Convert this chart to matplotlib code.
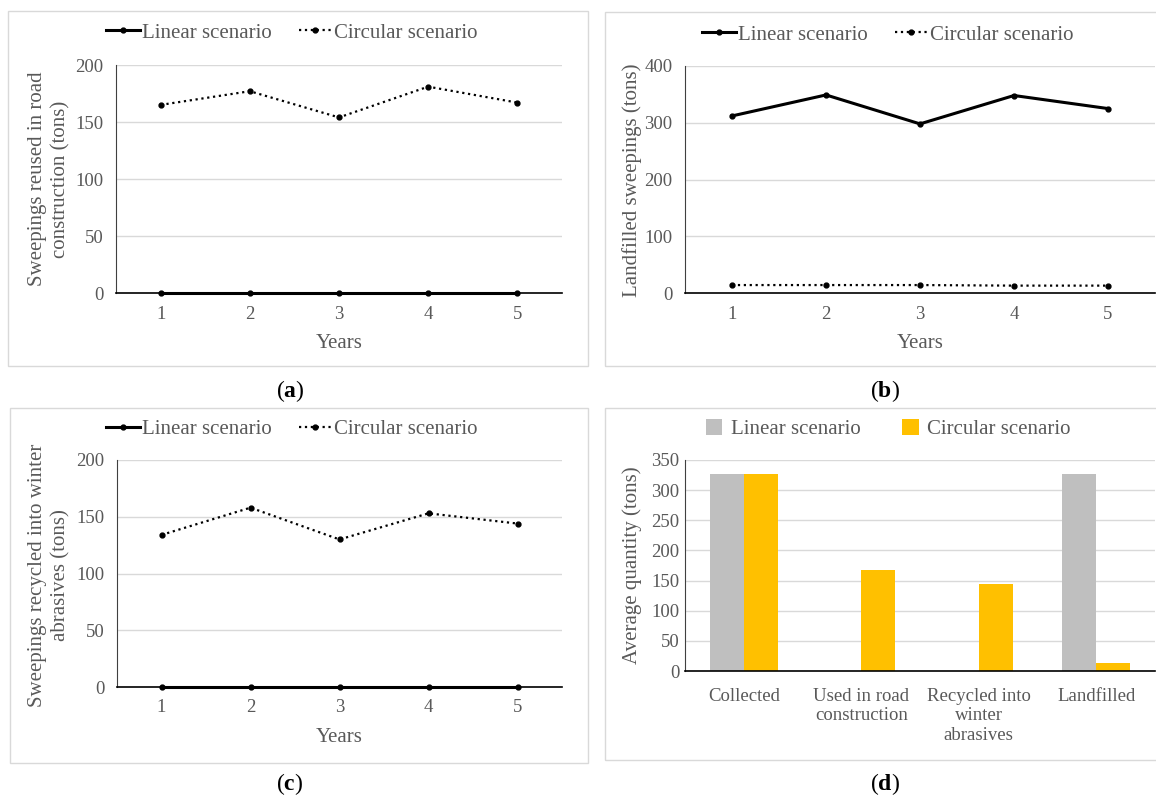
import matplotlib
matplotlib.use("Agg")
import matplotlib.pyplot as plt
from matplotlib.patches import Rectangle
import numpy as np

# data
years = [1, 2, 3, 4, 5]
reused_linear = [0, 0, 0, 0, 0]
reused_circular = [165, 177, 154, 181, 167]
landfill_linear = [312, 349, 298, 348, 325]
landfill_circular = [14, 14, 14, 13, 13]
recycled_linear = [0, 0, 0, 0, 0]
recycled_circular = [134, 158, 130, 153, 144]

bar_cats = ["Collected", "Used in road\nconstruction", "Recycled into\nwinter\nabrasives", "Landfilled"]
bar_linear = [326, 0, 0, 326]
bar_circular = [326, 167, 144, 13]

plt.rcParams['font.family'] = ['Liberation Serif', 'DejaVu Serif']
plt.rcParams['mathtext.fontset'] = 'custom'
plt.rcParams['mathtext.rm'] = 'Liberation Serif'
plt.rcParams['mathtext.bf'] = 'Liberation Serif:bold'

W, H = 1156, 798
txt = '#595959'
grid = '#d9d9d9'
fs_lab = 15
fs_tick = 13.5

fig = plt.figure(figsize=(W / 100, H / 100), dpi=100)


def fx(x):
    return x / W


def fy(y):
    return 1 - y / H


def add_ax(l, t, r, b):
    return fig.add_axes([fx(l), fy(b), (r - l) / W, (b - t) / H])


def frame(l, t, r, b):
    fig.patches.append(Rectangle((fx(l), fy(b)), (r - l) / W, (b - t) / H,
                                 transform=fig.transFigure, fill=False,
                                 edgecolor=grid, lw=1.0))


def style(ax, ymax, step):
    ax.set_ylim(0, ymax)
    ax.set_yticks(np.arange(0, ymax + 1, step))
    ax.grid(axis='y', color=grid, lw=1.0)
    ax.set_axisbelow(True)
    for s in ['top', 'right']:
        ax.spines[s].set_visible(False)
    ax.spines['left'].set_color('#404040')
    ax.spines['bottom'].set_color('black')
    ax.spines['bottom'].set_linewidth(1.2)
    ax.tick_params(length=0, labelsize=fs_tick, labelcolor=txt, pad=9)


def line_panel(ax, lin, circ, ymax, step, legpos):
    l1, = ax.plot(years, lin, '-', color='black', lw=2.2, marker='o', ms=3.5,
                  label='Linear scenario', clip_on=False, zorder=3)
    l2, = ax.plot(years, circ, ':', color='black', lw=1.6, marker='o', ms=3.5,
                  label='Circular scenario', clip_on=False, zorder=3)
    ax.set_xlim(0.5, 5.5)
    ax.set_xticks(years)
    style(ax, ymax, step)
    ax.legend(handles=[l1, l2], loc='center', bbox_to_anchor=(fx(legpos[0]), fy(legpos[1])),
              bbox_transform=fig.transFigure, ncol=2, frameon=False, fontsize=fs_lab,
              labelcolor=txt, handlelength=1.6, handletextpad=0.1, columnspacing=1.3)


# (a)
frame(8, 11, 588, 366)
ax = add_ax(116, 65, 562, 293)
line_panel(ax, reused_linear, reused_circular, 200, 50, (292, 33))
fig.text(fx(49), fy(179), "Sweepings reused in road\nconstruction (tons)", rotation=90,
         ha='center', va='center', fontsize=fs_lab, color=txt, linespacing=1.3)
fig.text(fx(339), fy(343), "Years", ha='center', va='center', fontsize=fs_lab, color=txt)
fig.text(fx(290), fy(391), r"($\mathbf{a}$)", ha='center', va='center', fontsize=17, color='black')

# (b)
frame(605, 12, 1170, 366)
ax = add_ax(685, 66, 1155, 293)
line_panel(ax, landfill_linear, landfill_circular, 400, 100, (888, 35))
fig.text(fx(632), fy(180), "Landfilled sweepings (tons)", rotation=90,
         ha='center', va='center', fontsize=fs_lab, color=txt)
fig.text(fx(920), fy(343), "Years", ha='center', va='center', fontsize=fs_lab, color=txt)
fig.text(fx(885), fy(391), r"($\mathbf{b}$)", ha='center', va='center', fontsize=17, color='black')

# (c)
frame(10, 408, 588, 763)
ax = add_ax(117, 460, 562, 687)
line_panel(ax, recycled_linear, recycled_circular, 200, 50, (292, 429))
fig.text(fx(49), fy(575), "Sweepings recycled into winter\nabrasives (tons)", rotation=90,
         ha='center', va='center', fontsize=fs_lab, color=txt, linespacing=1.3)
fig.text(fx(339), fy(737), "Years", ha='center', va='center', fontsize=fs_lab, color=txt)
fig.text(fx(290), fy(784), r"($\mathbf{c}$)", ha='center', va='center', fontsize=17, color='black')

# (d)
frame(605, 408, 1170, 760)
ax = add_ax(685, 460, 1155, 671)
x = np.arange(len(bar_cats))
w = 0.29
b1 = ax.bar(x - w / 2, bar_linear, w, color='#bfbfbf', label='Linear scenario')
b2 = ax.bar(x + w / 2, bar_circular, w, color='#ffc000', label='Circular scenario')
ax.set_xlim(-0.5, len(bar_cats) - 0.5)
ax.set_xticks(x)
ax.set_xticklabels(bar_cats, linespacing=1.2)
style(ax, 350, 50)
ax.tick_params(axis='y', pad=4)
ax.tick_params(axis='x', pad=12)
ax.legend(handles=[b1, b2], loc='center', bbox_to_anchor=(fx(888), fy(429)),
          bbox_transform=fig.transFigure, ncol=2, frameon=False, fontsize=fs_lab,
          labelcolor=txt, handlelength=0.8, handleheight=0.8, handletextpad=0.4,
          columnspacing=2.0)
fig.text(fx(632), fy(565), "Average quantity (tons)", rotation=90,
         ha='center', va='center', fontsize=fs_lab, color=txt)
fig.text(fx(885), fy(784), r"($\mathbf{d}$)", ha='center', va='center', fontsize=17, color='black')

fig.savefig('out.png', dpi=100, facecolor='white')
